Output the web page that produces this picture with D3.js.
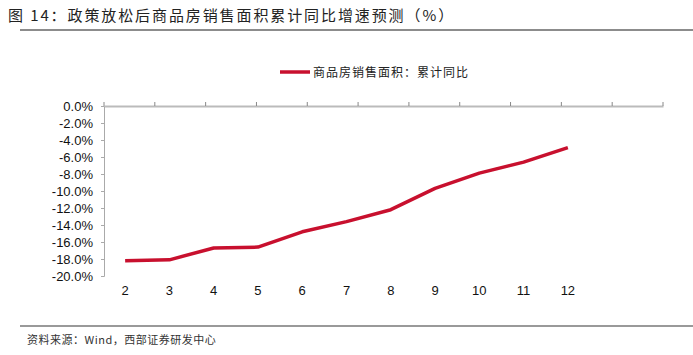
<!DOCTYPE html>
<html>
<head>
<meta charset="utf-8">
<script src="https://cdn.jsdelivr.net/npm/d3@7"></script>
<style>
  body { margin: 0; background: #fff; }
  svg { display: block; }
</style>
</head>
<body>
<svg id="chart"></svg>
<script>
const months = [2, 3, 4, 5, 6, 7, 8, 9, 10, 11, 12];
const salesArea = [-18.2, -18.1, -16.7, -16.6, -14.8, -13.6, -12.2, -9.7, -7.9, -6.6, -4.9];
const yTicks = [0, -2, -4, -6, -8, -10, -12, -14, -16, -18, -20];
const title = '图 14：政策放松后商品房销售面积累计同比增速预测（%）';
const seriesName = '商品房销售面积：累计同比';
const source = '资料来源：Wind，西部证券研发中心';

const W = 693, H = 355;
const cjk = '"Noto Sans CJK SC", sans-serif';
const latin = '"Liberation Sans", Arial, sans-serif';

const svg = d3.select('#chart').attr('width', W).attr('height', H);

// title + rules
svg.append('text').attr('x', 8).attr('y', 21)
  .attr('font-family', cjk).attr('font-size', 15).attr('fill', '#222')
  .attr('letter-spacing', 1.9)
  .text(title);
svg.append('line').attr('x1', 20).attr('x2', W).attr('y1', 30).attr('y2', 30)
  .attr('stroke', '#666').attr('stroke-width', 1.5);
svg.append('line').attr('x1', 20).attr('x2', W).attr('y1', 326).attr('y2', 326)
  .attr('stroke', '#999').attr('stroke-width', 2);
svg.append('text').attr('x', 27).attr('y', 344)
  .attr('font-family', cjk).attr('font-size', 11).attr('fill', '#333')
  .attr('letter-spacing', 0.5)
  .text(source);

// scales
const x = d3.scaleBand().domain(months).range([103, 590]);
const xTop = d3.scaleBand().domain(months).range([104, 663]);
const y = d3.scaleLinear().domain([-20, 0]).range([276, 106]);

// top axis (zero line)
const topAxis = svg.append('g')
  .attr('transform', `translate(0,${y(0)})`)
  .call(d3.axisTop(xTop).tickSize(0).tickFormat(''));
topAxis.select('.domain').attr('stroke', '#bbb').attr('stroke-width', 2);
topAxis.selectAll('.edge')
  .data([104].concat(months.map(m => xTop(m) + xTop.bandwidth())))
  .enter().append('line')
  .attr('x1', d => d).attr('x2', d => d).attr('y1', -4).attr('y2', 0)
  .attr('stroke', '#888');

// left axis
const leftAxis = svg.append('g')
  .attr('transform', 'translate(104,0)')
  .call(d3.axisLeft(y).tickValues(yTicks).tickSize(3).tickPadding(8)
    .tickFormat(d => d.toFixed(1) + '%'));
leftAxis.select('.domain').attr('stroke', '#aaa');
leftAxis.selectAll('.tick line').attr('stroke', '#aaa');
leftAxis.selectAll('text').attr('font-family', latin).attr('font-size', 13).attr('fill', '#111');

// bottom labels
const bottom = svg.append('g')
  .attr('transform', 'translate(0,276)')
  .call(d3.axisBottom(x).tickSize(0).tickPadding(10));
bottom.select('.domain').remove();
bottom.selectAll('text').attr('font-family', latin).attr('font-size', 13).attr('fill', '#111');

// series line
const line = d3.line()
  .x((d, i) => x(months[i]) + x.bandwidth() / 2)
  .y(d => y(d));
svg.append('path').datum(salesArea)
  .attr('d', line)
  .attr('fill', 'none')
  .attr('stroke', '#c8102e')
  .attr('stroke-width', 3.5)
  .attr('stroke-linejoin', 'round');

// legend
svg.append('line').attr('x1', 280).attr('x2', 310).attr('y1', 72).attr('y2', 72)
  .attr('stroke', '#c8102e').attr('stroke-width', 3.5);
svg.append('text').attr('x', 313).attr('y', 76.5)
  .attr('font-family', cjk).attr('font-size', 12).attr('fill', '#222')
  .attr('letter-spacing', 1)
  .text(seriesName);
</script>
</body>
</html>
